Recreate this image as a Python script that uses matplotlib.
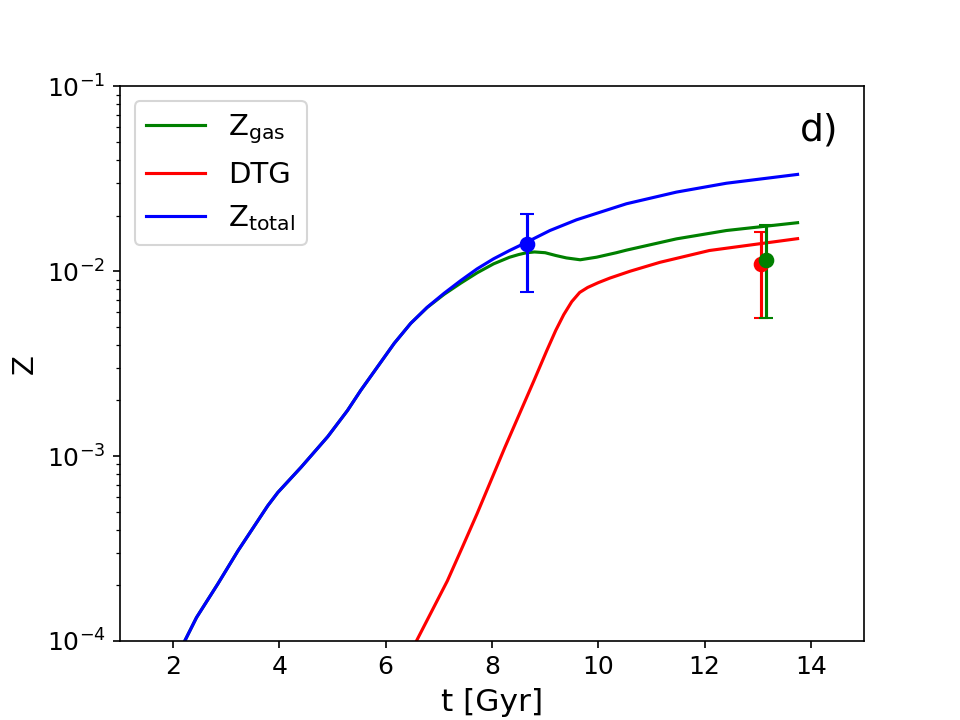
import matplotlib
matplotlib.use('Agg')
import matplotlib.pyplot as plt
import numpy as np

# model curves
t_total = [2.22, 2.44, 2.84, 3.22, 3.78, 3.97, 4.41, 4.91, 5.28, 5.53, 6.16, 6.47, 6.78, 7.1, 7.41, 7.72, 8.03, 8.33, 8.59, 9.09, 9.59, 10.53, 11.47, 12.41, 13.75]
Z_total = [1.0e-4, 1.337e-4, 2.03e-4, 3.07e-4, 5.38e-4, 6.35e-4, 8.71e-4, 1.274e-3, 1.762e-3, 2.265e-3, 4.07e-3, 5.22e-3, 6.38e-3, 7.60e-3, 8.89e-3, 1.03e-2, 1.167e-2, 1.294e-2, 1.406e-2, 1.66e-2, 1.897e-2, 2.317e-2, 2.679e-2, 2.992e-2, 3.34e-2]

t_gas = [2.22, 2.44, 2.84, 3.22, 3.78, 3.97, 4.41, 4.91, 5.28, 5.53, 6.16, 6.47, 6.78, 7.1, 7.41, 7.72, 8.03, 8.33, 8.5, 8.65, 8.8, 9.0, 9.2, 9.4, 9.66, 9.97, 10.34, 10.53, 11.47, 12.41, 13.75]
Z_gas = [1.0e-4, 1.337e-4, 2.03e-4, 3.07e-4, 5.38e-4, 6.35e-4, 8.71e-4, 1.274e-3, 1.762e-3, 2.265e-3, 4.07e-3, 5.22e-3, 6.36e-3, 7.50e-3, 8.61e-3, 9.80e-3, 1.096e-2, 1.19e-2, 1.23e-2, 1.259e-2, 1.271e-2, 1.259e-2, 1.216e-2, 1.18e-2, 1.153e-2, 1.191e-2, 1.259e-2, 1.30e-2, 1.496e-2, 1.66e-2, 1.83e-2]

t_dtg = [6.58, 7.16, 7.44, 7.72, 8.24, 8.79, 9.03, 9.2, 9.35, 9.5, 9.65, 9.8, 10.0, 10.22, 10.6, 11.16, 12.09, 13.75]
DTG = [1.0e-4, 2.11e-4, 3.20e-4, 4.88e-4, 1.109e-3, 2.56e-3, 3.715e-3, 4.786e-3, 5.821e-3, 6.839e-3, 7.674e-3, 8.166e-3, 8.67e-3, 9.183e-3, 1.0e-2, 1.117e-2, 1.294e-2, 1.50e-2]

# observational points with errors
obs_t = [8.65, 13.06, 13.16]
obs_Z = [1.41e-2, 1.10e-2, 1.153e-2]
obs_lo = [7.67e-3, 5.61e-3, 5.55e-3]
obs_hi = [2.05e-2, 1.62e-2, 1.77e-2]
obs_c = ['blue', 'red', 'green']

fig, ax = plt.subplots(figsize=(6.4, 4.8), dpi=150)

ax.plot(t_gas, Z_gas, c='green', label=r'$\mathrm{Z_{gas}}$')
ax.plot(t_dtg, DTG, c='red', label='DTG')
ax.plot(t_total, Z_total, c='blue', label=r'$\mathrm{Z_{total}}$')

for i in range(len(obs_t)):
    yerr = [[obs_Z[i] - obs_lo[i]], [obs_hi[i] - obs_Z[i]]]
    ax.errorbar(obs_t[i], obs_Z[i], yerr=yerr, fmt='o', c=obs_c[i], capsize=3.5, ms=6.5)

ax.set_yscale('log')
ax.set_xlim(1, 15)
ax.set_ylim(1e-4, 1e-1)
ax.set_xticks([2, 4, 6, 8, 10, 12, 14])
ax.tick_params(labelsize=12)
ax.set_xlabel('t [Gyr]', fontsize=15)
ax.set_ylabel('Z', fontsize=14)
ax.text(0.965, 0.92, 'd)', transform=ax.transAxes, fontsize=18, ha='right', va='center')
ax.legend(loc='upper left', fontsize=14)

plt.savefig('out.png', dpi=150)
